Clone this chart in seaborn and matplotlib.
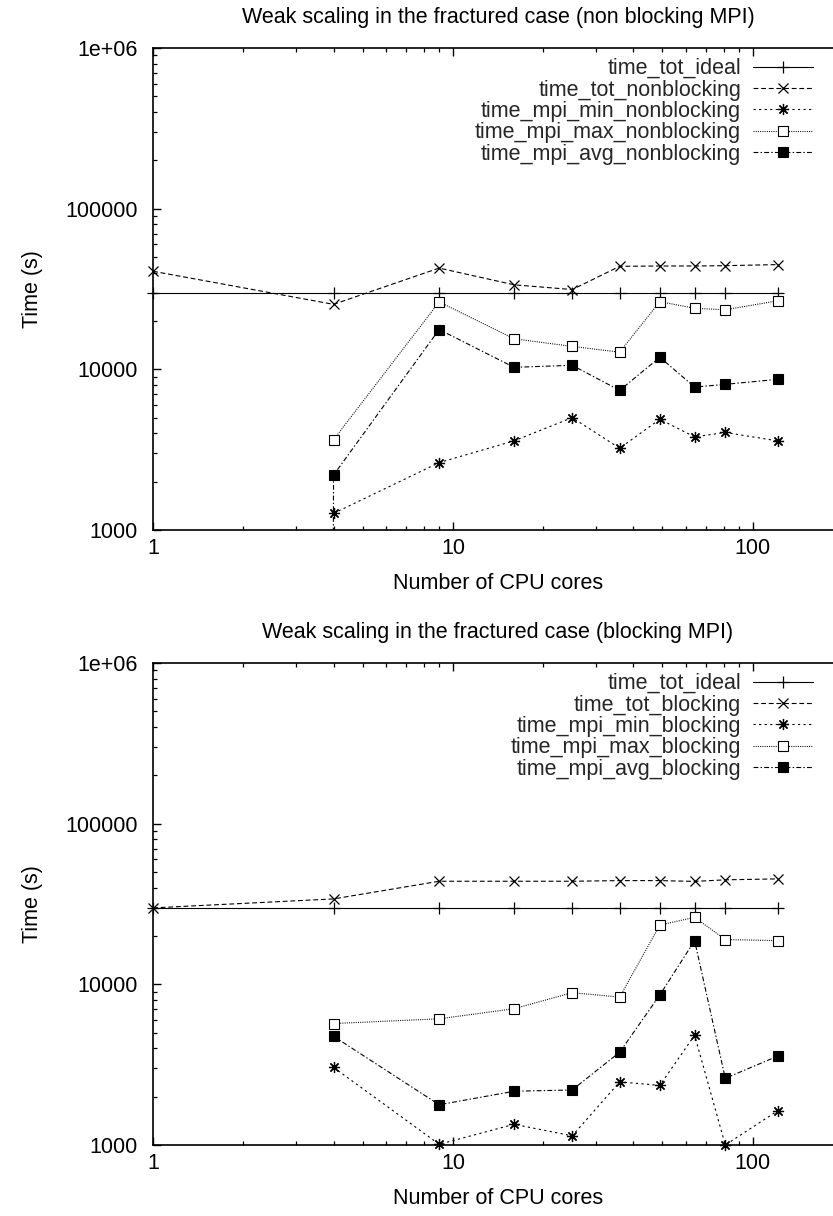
import numpy as np
import pandas as pd
import matplotlib
matplotlib.use("Agg")
import matplotlib.pyplot as plt
from matplotlib.ticker import FixedLocator, FuncFormatter, LogLocator, NullFormatter
import seaborn as sns

# data (log-log weak scaling runs)
cores = [1, 4, 9, 16, 25, 36, 49, 64, 81, 121]
nan = np.nan

time_tot_ideal = [29900, 29900, 29900, 29900, 29900, 29900, 29900, 29900, 29900, 29900]

# non blocking MPI
time_tot_nonblocking = [40800, 25400, 42700, 33600, 31400, 43800, 44000, 44000, 44200, 44900]
time_mpi_min_nonblocking = [nan, 1270, 2630, 3590, 5010, 3230, 4890, 3800, 4050, 3590]
time_mpi_max_nonblocking = [nan, 3650, 26300, 15500, 13900, 12800, 26400, 24000, 23500, 26700]
time_mpi_avg_nonblocking = [1e-300, 2200, 17700, 10300, 10600, 7400, 11900, 7760, 8070, 8670]

# blocking MPI
time_tot_blocking = [29900, 34000, 43800, 43800, 43800, 44200, 44200, 43700, 44700, 45300]
time_mpi_min_blocking = [nan, 3040, 1010, 1345, 1140, 2470, 2350, 4820, 1000, 1630]
time_mpi_max_blocking = [nan, 5700, 6100, 7050, 8870, 8330, 23400, 26100, 19000, 18700]
time_mpi_avg_blocking = [nan, 4750, 1780, 2160, 2200, 3780, 8580, 18700, 2600, 3570]

sns.set_theme(style="ticks")
plt.rcParams['font.family'] = ['Liberation Sans', 'DejaVu Sans']
plt.rcParams['lines.scale_dashes'] = False
plt.rcParams['axes.linewidth'] = 1.2

FS = 15.5

# gnuplot-like point/line types
styles = [
    dict(marker='+', markersize=8, linestyle='-', mew=0.9),
    dict(marker='x', markersize=6.5, linestyle=(0, (3.5, 2.0)), mew=0.9),
    dict(marker=(8, 2, 0), markersize=8, linestyle=(0, (1.6, 2.4)), mew=0.9),
    dict(marker='s', markersize=6.5, linestyle=(0, (0.7, 0.9)), mew=0.8, mfc='white'),
    dict(marker='s', markersize=6.5, linestyle=(0, (3.5, 1.6, 1.0, 1.6)), mew=0.8, mfc='black'),
]


def draw_panel(ax, series, title):
    ax.set_xscale('log')
    ax.set_yscale('log')
    for (name, values, clip), st in zip(series, styles):
        df = pd.DataFrame({'cores': cores, 'time': values}).dropna()
        sns.lineplot(data=df, x='cores', y='time', ax=ax, label=name,
                     color='black', linewidth=0.8, mec='black',
                     estimator=None, sort=False, errorbar=None,
                     clip_on=clip, **st)
    ax.set_xlim(1, 200)
    ax.set_ylim(1000, 1e6)
    ax.yaxis.set_major_locator(FixedLocator([1000, 10000, 100000, 1e6]))
    ax.yaxis.set_major_formatter(FuncFormatter(
        lambda v, p: '1e+06' if v >= 1e6 else '%d' % v))
    ax.yaxis.set_minor_locator(LogLocator(base=10, subs=np.arange(2, 10)))
    ax.yaxis.set_minor_formatter(NullFormatter())
    ax.xaxis.set_major_locator(FixedLocator([1, 10, 100]))
    ax.xaxis.set_major_formatter(FuncFormatter(lambda v, p: '%d' % v))
    ax.xaxis.set_minor_locator(LogLocator(base=10, subs=np.arange(2, 10)))
    ax.xaxis.set_minor_formatter(NullFormatter())
    ax.tick_params(which='both', direction='in', top=True, right=True,
                   colors='black', labelsize=FS)
    ax.tick_params(which='major', length=5.5, width=1.0)
    ax.tick_params(which='minor', length=3, width=0.9)
    ax.tick_params(axis='x', pad=6)
    ax.tick_params(axis='y', pad=11)
    for sp in ax.spines.values():
        sp.set_color('black')
    ax.set_title(title, fontsize=FS, pad=18, color='black')
    ax.set_xlabel('Number of CPU cores', fontsize=FS, labelpad=10, color='black')
    ax.set_ylabel('Time (s)', fontsize=FS, labelpad=16, color='black')
    ax.legend(loc='upper right', bbox_to_anchor=(0.957, 0.979),
              frameon=False, markerfirst=False, fontsize=FS,
              handlelength=2.8, handletextpad=0.55, labelspacing=0.02,
              borderpad=0, borderaxespad=0)


fig = plt.figure(figsize=(8.33, 12.16), dpi=100)
ax1 = fig.add_axes([0.1837, 0.5641, 0.8283, 0.3964])
ax2 = fig.add_axes([0.1837, 0.0584, 0.8283, 0.3964])

draw_panel(ax1, [
    ('time_tot_ideal', time_tot_ideal, False),
    ('time_tot_nonblocking', time_tot_nonblocking, False),
    ('time_mpi_min_nonblocking', time_mpi_min_nonblocking, False),
    ('time_mpi_max_nonblocking', time_mpi_max_nonblocking, True),
    ('time_mpi_avg_nonblocking', time_mpi_avg_nonblocking, True),
], 'Weak scaling in the fractured case (non blocking MPI)')

draw_panel(ax2, [
    ('time_tot_ideal', time_tot_ideal, False),
    ('time_tot_blocking', time_tot_blocking, False),
    ('time_mpi_min_blocking', time_mpi_min_blocking, False),
    ('time_mpi_max_blocking', time_mpi_max_blocking, True),
    ('time_mpi_avg_blocking', time_mpi_avg_blocking, True),
], 'Weak scaling in the fractured case (blocking MPI)')

fig.savefig('out.png', dpi=100)
